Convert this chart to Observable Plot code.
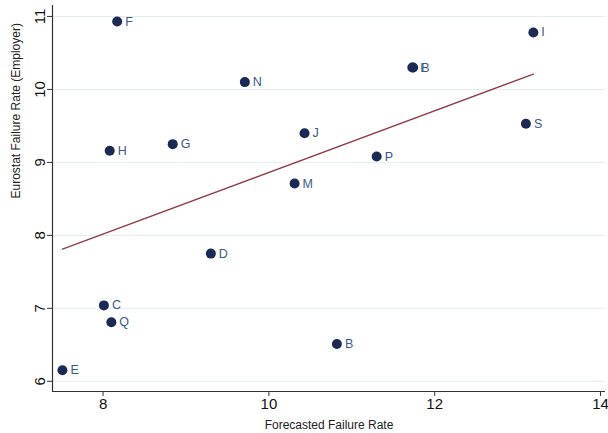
<!DOCTYPE html>
<html>
<head>
<meta charset="utf-8">
<script src="https://cdn.jsdelivr.net/npm/d3@7"></script>
<script src="https://cdn.jsdelivr.net/npm/@observablehq/plot@0.6"></script>
<style>
  body { margin: 0; background: #fff; }
  svg { font-family: "Liberation Sans", Arial, sans-serif; }
</style>
</head>
<body>
<div id="chart"></div>
<script>
const labels = ["F", "I", "L", "B", "N", "S", "J", "G", "H", "P", "M", "D", "C", "Q", "B", "E"];
const forecast = [8.17, 13.19, 11.73, 11.74, 9.71, 13.10, 10.43, 8.84, 8.08, 11.30, 10.31, 9.30, 8.01, 8.10, 10.82, 7.51];
const eurostat = [10.93, 10.78, 10.30, 10.30, 10.10, 9.53, 9.40, 9.25, 9.16, 9.08, 8.71, 7.75, 7.04, 6.81, 6.51, 6.15];
const fitX = [7.51, 13.19];
const fitY = [7.81, 10.21];
const xTicks = [8, 10, 12, 14];
const yTicks = [6, 7, 8, 9, 10, 11];

const pts = labels.map((l, i) => ({label: l, x: forecast[i], y: eurostat[i]}));
const fit = fitX.map((x, i) => ({x, y: fitY[i]}));

const chart = Plot.plot({
  width: 608,
  height: 433,
  marginLeft: 52,
  marginRight: 3,
  marginTop: 5,
  marginBottom: 42,
  style: {fontFamily: "Liberation Sans, Arial, sans-serif", background: "#fff"},
  x: {domain: [7.39, 14.06]},
  y: {domain: [5.86, 11.15]},
  marks: [
    Plot.gridY(yTicks, {stroke: "#e4edef", strokeOpacity: 1, strokeWidth: 1}),
    Plot.axisX(xTicks, {tickSize: 5, tickPadding: 2, fontSize: 15, stroke: "#333", fill: "#111", label: null, tickFormat: "d"}),
    Plot.axisY(yTicks, {tickSize: 5, tickPadding: 3, fontSize: 15, tickRotate: -90, stroke: "#333", fill: "#111", label: null, tickFormat: "d"}),
    Plot.ruleX([7.39], {stroke: "#333", strokeWidth: 1.2}),
    Plot.ruleY([5.86], {stroke: "#333", strokeWidth: 1.2}),
    Plot.line(fit, {x: "x", y: "y", stroke: "#923a40", strokeWidth: 1.3}),
    Plot.dot(pts, {x: "x", y: "y", r: 5, fill: "#1b2a54", stroke: "none"}),
    Plot.text(pts, {x: "x", y: "y", text: "label", dx: 8, textAnchor: "start", fontSize: 12.5, fill: "#3a5a86"}),
    Plot.text(["Forecasted Failure Rate"], {frameAnchor: "bottom", dy: 37, fontSize: 12, fill: "#222"}),
    Plot.text(["Eurostat Failure Rate (Employer)"], {frameAnchor: "left", dx: -36, rotate: -90, fontSize: 12, fill: "#222"})
  ]
});
document.getElementById("chart").appendChild(chart);
</script>
</body>
</html>
